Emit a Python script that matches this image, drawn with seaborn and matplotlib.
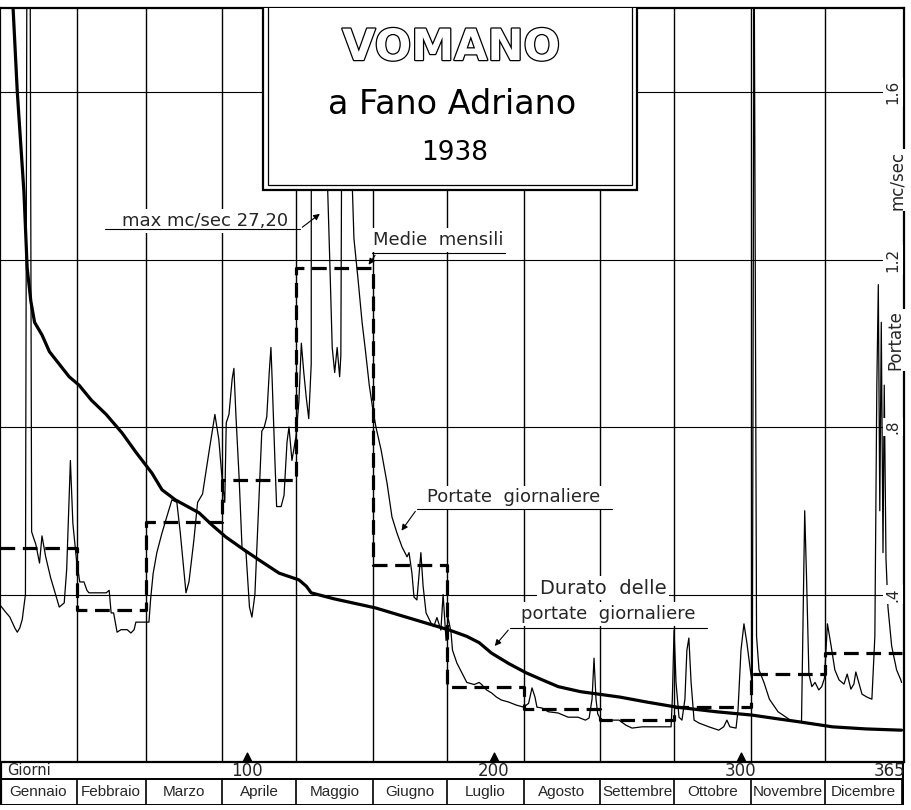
import matplotlib
matplotlib.use("Agg")
import matplotlib.pyplot as plt
import matplotlib.patheffects as pe
from matplotlib.patches import Rectangle
import numpy as np
import pandas as pd
import seaborn as sns

# ---------------- data ----------------
month_names = ["Gennaio", "Febbraio", "Marzo", "Aprile", "Maggio", "Giugno",
               "Luglio", "Agosto", "Settembre", "Ottobre", "Novembre", "Dicembre"]
month_edges = [0, 31, 59, 90, 120, 151, 181, 212, 243, 273, 304, 334, 365]
monthly_means = [0.51, 0.363, 0.573, 0.673, 1.18, 0.47, 0.18, 0.127, 0.10, 0.131, 0.21, 0.26]

y_ticks = [0.4, 0.8, 1.2, 1.6]
y_tick_labels = [".4", ".8", "1.2", "1.6"]
day_ticks = [100, 200, 300, 365]

# daily discharge (day, m3/s), vertices of the hand-drawn polyline
gennaio = [(0, .375), (2, .36), (4, .346), (6, .32), (7, .31), (8, .32), (9, .34), (10.3, .40),
           (11.5, 3.5), (12.8, .55), (13.5, .537), (14.5, .52), (16, .475), (17, .54), (18.5, .49),
           (20.5, .44), (22.5, .40), (24, .37), (26, .38), (27, .46), (28.5, .72), (29.5, .57), (31, .48)]
febbraio = [(32.3, .43), (34, .43), (35.2, .41), (36, .404), (43, .404), (44.2, .41), (45, .356),
            (46, .356), (47.4, .31), (49, .316), (51.5, .316), (53, .308), (54.3, .316), (55, .334), (60.3, .334)]
marzo = [(61, .39), (62, .45), (63.5, .50), (65.5, .545), (67.5, .585), (69.6, .626), (71.6, .62),
         (73, .547), (75.3, .404), (76.5, .43), (78.5, .53), (80, .62), (82, .64), (84.6, .74),
         (87, .83), (88.6, .77), (90, .67)]
aprile = [(91, .62), (91.6, .81), (92.7, .83), (94, .915), (94.7, .94), (95.5, .83), (96.8, .68),
          (98, .51), (99.6, .50), (101, .37), (102, .346), (103.2, .40), (104.8, .62), (106, .79),
          (107, .80), (108, .824), (109, .93), (109.7, .99), (110.2, .91), (111.3, .72), (112, .61),
          (113.8, .61), (115, .637), (116.2, .764), (117, .80), (118.2, .72), (119.8, .776)]
maggio = [(121, .86), (122, 1.0), (123, .93), (124, .87), (125, .82), (126, .95), (128, 27.2),
          (131, 3.0), (132, 1.5), (133.5, 1.2), (134.5, .99), (135.5, .93), (136.5, .99), (137.5, .92),
          (138, .97), (139, 2.5), (141, 2.0), (142.5, 1.4), (143.3, 1.25), (145, 1.15), (146.6, 1.05),
          (148, .98), (149.5, .90), (151, .84)]
giugno = [(152.2, .80), (154.3, .745), (156.7, .666), (158.7, .585), (160.7, .547), (162.8, .513),
          (164.8, .49), (165.6, .50), (166.8, .45), (167.6, .394), (168.8, .387), (170.4, .50),
          (171.3, .42), (172.5, .356), (174.5, .332), (175.7, .325), (176.9, .345), (178.5, .315),
          (179.4, .40), (180.6, .29), (181.4, .345)]
luglio = [(182.6, .31), (183.2, .267), (185, .236), (187, .213), (189, .19), (192, .185), (194, .19),
          (195, .185), (197, .172), (199, .165), (201, .155), (203, .148), (206, .143), (209, .136), (212, .131)]
agosto = [(214, .14), (215.4, .177), (216.6, .155), (217.4, .131), (219.4, .129), (222, .12), (226, .117),
          (230, .107), (234, .107), (237, .10), (238.5, .105), (239.7, .15), (240.5, .248), (241.3, .15), (242, .115)]
settembre = [(243.3, .10), (246.6, .10), (250.6, .10), (253.4, .088), (255.9, .081), (260, .084),
             (266.8, .084), (271.7, .084), (272.2, .15)]
ottobre = [(272.9, .315), (273.7, .19), (274.9, .107), (276.1, .10), (277.3, .15), (278.1, .267),
           (278.9, .296), (279.8, .19), (281, .10), (283, .093), (287, .084), (291, .076), (293, .084),
           (294.3, .10), (295.5, .084), (298, .081), (298.8, .124), (300, .267), (301.2, .33),
           (302.4, .284), (304, .21)]
novembre = [(304.6, .19), (305.3, 2.0), (306.3, .30), (307.3, .22), (309.3, .19), (311.5, .15),
            (315, .12), (320, .10), (324.5, .095), (325.8, .60), (326.5, .45), (327.5, .21),
            (328.7, .18), (330, .19), (331.5, .172), (332.7, .18), (333.8, .2)]
dicembre = [(335, .33), (336.5, .277), (338, .22), (339.7, .196), (341.7, .186), (343, .21),
            (344.5, .174), (345.7, .186), (346.5, .215), (347.7, .19), (349, .162), (351, .155),
            (353, .15), (354.2, .3), (355, .9), (355.6, 1.14), (356.2, .6), (356.8, 1.05), (357.5, .5),
            (358, .9), (358.7, .487), (359.5, .37), (361, .277), (363, .22), (364.7, .196), (365, .19)]

# flow-duration curve (days, m3/s)
durata_days = [4.5, 5.3, 7, 9.7, 11, 12.5, 14, 17, 20, 24, 28, 32, 37, 43, 49.4, 55, 61.5, 65.6, 71,
               80.6, 86, 91.5, 98, 105, 113, 121, 124, 126, 135, 152, 165, 182, 189, 194, 199, 206,
               213, 220, 226, 235, 251, 262, 274, 290, 304.5, 315, 323.5, 337, 350.6, 365]
durata_q = [2.2, 1.8, 1.6, 1.36, 1.18, 1.10, 1.05, 1.02, 0.98, 0.95, 0.92, 0.90, 0.864, 0.83, 0.786,
            0.74, 0.69, 0.65, 0.626, 0.595, 0.565, 0.537, 0.51, 0.482, 0.451, 0.435, 0.42, 0.404,
            0.39, 0.368, 0.345, 0.315, 0.30, 0.285, 0.26, 0.235, 0.213, 0.195, 0.18, 0.168, 0.155,
            0.143, 0.131, 0.12, 0.112, 0.103, 0.096, 0.084, 0.079, 0.076]

title_lines = ["VOMANO", "a Fano Adriano", "1938"]
max_label = "max mc/sec 27,20"

# ---------------- figure ----------------
sns.set_theme(style="white")
plt.rcParams["font.family"] = ["DejaVu Sans"]

W, H = 911, 810
fig = plt.figure(figsize=(W / 100, H / 100), dpi=100)
fig.patch.set_facecolor("white")

ax = fig.add_axes([0 / W, (H - 762) / H, 904 / W, (762 - 8.25) / H])
ax.set_xlim(0, 366)
ax.set_ylim(0, 1.8)
ax.set_facecolor("white")
ax.set_xticks([])
ax.set_yticks([])
for s in ax.spines.values():
    s.set_color("black")
    s.set_linewidth(1.6)

# grid
for q in y_ticks:
    ax.axhline(q, color="black", lw=0.8, zorder=1)
for e in month_edges[1:-1]:
    ax.axvline(e, color="black", lw=1.0, zorder=1)

# daily series
daily = pd.DataFrame(gennaio + febbraio + marzo + aprile + maggio + giugno + luglio +
                     agosto + settembre + ottobre + novembre + dicembre, columns=["giorno", "portata"])
sns.lineplot(data=daily, x="giorno", y="portata", ax=ax, color="black", lw=0.9,
             sort=False, estimator=None, zorder=3)

# duration curve
durata = pd.DataFrame({"giorno": durata_days, "portata": durata_q})
sns.lineplot(data=durata, x="giorno", y="portata", ax=ax, color="black", lw=2.3,
             sort=False, estimator=None, zorder=4)

# monthly means (dashed steps)
medie = pd.DataFrame({"giorno": month_edges, "portata": monthly_means + [monthly_means[-1]]})
sns.lineplot(data=medie, x="giorno", y="portata", ax=ax, color="black", lw=2.3,
             sort=False, estimator=None, drawstyle="steps-post",
             linestyle=(0, (4.6, 2.4)), zorder=4)

ax.set_xlabel("")
ax.set_ylabel("")
ax.set_xlim(0, 366)
ax.set_ylim(0, 1.8)

# title box (double border)
ax.add_patch(Rectangle((106.5, 1.366), 257.9 - 106.5, 0.6, facecolor="white",
                       edgecolor="black", lw=1.6, zorder=8))
ax.add_patch(Rectangle((108.5, 1.378), 255.9 - 108.5, 0.6, facecolor="none",
                       edgecolor="black", lw=0.9, zorder=9))

fig.text(451 / W, 1 - 48 / H, title_lines[0], ha="center", va="center", fontsize=31,
         fontweight="bold", color="white",
         path_effects=[pe.Stroke(linewidth=1.8, foreground="black"), pe.Normal()], zorder=10)
fig.text(452 / W, 1 - 104 / H, title_lines[1], ha="center", va="center", fontsize=24,
         color="black", zorder=10)
fig.text(455 / W, 1 - 153 / H, title_lines[2], ha="center", va="center", fontsize=19,
         color="black", zorder=10)

# right axis labels
for q, lab in zip(y_ticks, y_tick_labels):
    ax.text(361.5, q, lab, rotation=90, ha="center", va="center", fontsize=11, zorder=6,
            bbox=dict(facecolor="white", edgecolor="none", pad=1.5))
ax.text(362.5, 1.008, "Portate", rotation=90, ha="center", va="center", fontsize=12, zorder=6,
        bbox=dict(facecolor="white", edgecolor="none", pad=1))
ax.text(363.0, 1.39, "mc/sec", rotation=90, ha="center", va="center", fontsize=12, zorder=6,
        bbox=dict(facecolor="white", edgecolor="none", pad=1))

txt_bbox = dict(facecolor="white", edgecolor="none", pad=2)
arrow_kw = dict(arrowstyle="-|>", color="black", lw=0.8, mutation_scale=9)

# max annotation
ax.text(83, 1.292, max_label, ha="center", va="center", fontsize=13, zorder=2, bbox=txt_bbox)
ax.plot([42.5, 121.5], [1.273, 1.273], color="black", lw=0.8, zorder=2)
ax.annotate("", xy=(130.4, 1.313), xytext=(121.5, 1.273), arrowprops=arrow_kw, zorder=5)

# Medie mensili
ax.text(177.5, 1.247, "Medie  mensili", ha="center", va="center", fontsize=13, zorder=2, bbox=txt_bbox)
ax.plot([150.6, 204.5], [1.2155, 1.2155], color="black", lw=0.8, zorder=2)
ax.annotate("", xy=(148.6, 1.182), xytext=(152.5, 1.2155), arrowprops=arrow_kw, zorder=5)

# Portate giornaliere
ax.text(208.0, 0.632, "Portate  giornaliere", ha="center", va="center", fontsize=13, zorder=2, bbox=txt_bbox)
ax.plot([168.8, 247.8], [0.604, 0.604], color="black", lw=0.8, zorder=2)
ax.annotate("", xy=(161.9, 0.547), xytext=(168.8, 0.604), arrowprops=arrow_kw, zorder=5)

# Durata delle portate giornaliere
ax.text(244.1, 0.4155, "Durato  delle", ha="center", va="center", fontsize=14, zorder=2, bbox=txt_bbox)
ax.text(246.2, 0.353, "portate  giornaliere", ha="center", va="center", fontsize=13, zorder=2, bbox=txt_bbox)
ax.plot([206.5, 286.2], [0.32, 0.32], color="black", lw=0.8, zorder=2)
ax.annotate("", xy=(199.6, 0.272), xytext=(206.5, 0.32), arrowprops=arrow_kw, zorder=5)

# day markers (triangles)
ax.scatter(day_ticks[:3], [0.013] * 3, marker="^", s=40, color="black",
           zorder=6, clip_on=False)

# ---------------- bottom bands ----------------
bx = fig.add_axes([0 / W, (H - 805) / H, 904 / W, 43 / H])
bx.set_xlim(0, 366)
bx.set_ylim(0, 1)
bx.axis("off")
sep = 0.605
for yy in (0.0, sep):
    bx.plot([0, 366], [yy, yy], color="black", lw=1.4)
for e in month_edges + [366]:
    bx.plot([e, e], [0, sep], color="black", lw=1.2)
bx.plot([0.3, 0.3], [0, 1], color="black", lw=1.6)
bx.plot([365.7, 365.7], [0, 1], color="black", lw=1.6)
for i, name in enumerate(month_names):
    bx.text((month_edges[i] + month_edges[i + 1]) / 2, sep / 2, name, ha="center", va="center",
            fontsize=11, family=["Liberation Sans", "DejaVu Sans"])
bx.text(3, 0.8, "Giorni", ha="left", va="center", fontsize=10.5)
for d in day_ticks:
    xx = d if d != 365 else 360
    bx.text(xx, 0.8, str(d), ha="center", va="center", fontsize=12)

fig.savefig("out.png", dpi=100, facecolor="white")
